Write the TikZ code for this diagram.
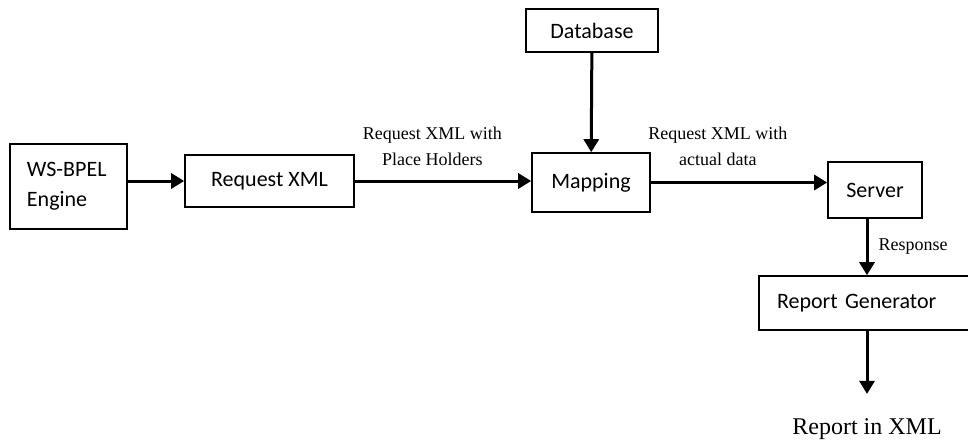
\documentclass[tikz,border=0pt]{standalone}
\usepackage{fontspec}
\setmainfont{Carlito}
\newfontfamily\labelfont{Liberation Serif}
\usetikzlibrary{arrows.meta, positioning, calc}

\begin{document}
\begin{tikzpicture}[x=1pt,y=-1pt,>={Triangle[length=13pt,width=15pt]},
    block/.style={draw, line width=1.6pt, inner sep=0pt, font=\fontsize{22}{30}\selectfont},
    flow/.style={->, line width=3pt},
    lbl/.style={font=\labelfont\fontsize{18}{26}\selectfont, align=center, inner sep=0pt}]

    \clip (0,0) rectangle (968,444);

    % processing blocks
    \node[block, minimum width=117pt, minimum height=85pt, text width=83pt, align=left] (Engine) at (68.5,186.5) {WS-BPEL\\Engine};
    \node[block, minimum width=169pt, minimum height=52pt] (ReqXML) at (269.5,181) {Request XML};
    \node[block, minimum width=132pt, minimum height=43pt] (Database) at (592,30.5) {Database};
    \node[block, minimum width=118pt, minimum height=59pt] (Mapping) at (591,182.5) {Mapping};
    \node[block, minimum width=94pt, minimum height=56pt] (Server) at (875,190) {Server};
    \node[block, minimum width=231pt, minimum height=54pt, text width=195pt, align=left] (ReportGen) at (874.5,303) {Report Generator};

    % final output
    \node[font=\labelfont\fontsize{24}{28}\selectfont, inner sep=0pt, anchor=base] (Output) at (867,434) {Report in XML};

    \draw[flow] (Engine.east |- ReqXML) -- (ReqXML);
    \draw[flow] (ReqXML) -- (Mapping.west |- ReqXML)
      node[lbl, above=14pt, pos=0.44] {Request XML with\\Place Holders};
    \draw[flow] (Database) -- (Mapping);
    \draw[flow] (Mapping) -- (Server.west |- Mapping)
      node[lbl, above=15pt, pos=0.38] {Request XML with\\actual data};
    \draw[flow] (Server.south -| Output) -- (ReportGen.north -| Output)
      node[lbl, right=10pt, midway] {Response};
    \draw[flow, shorten >=24pt] (ReportGen.south -| Output) -- (Output.north);
\end{tikzpicture}
\end{document}
